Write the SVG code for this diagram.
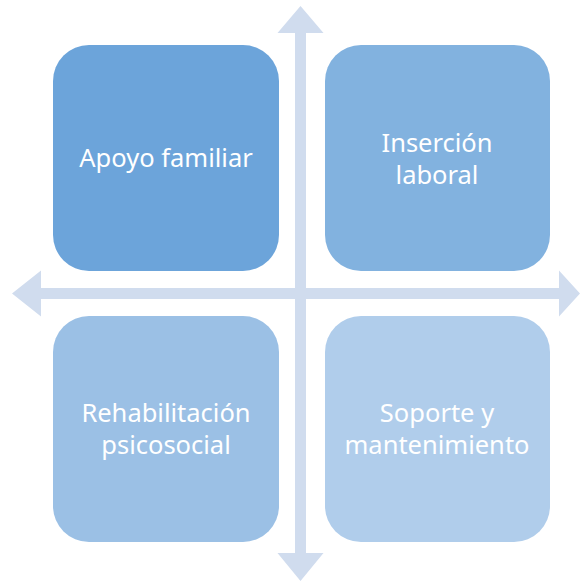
<svg xmlns="http://www.w3.org/2000/svg" width="580" height="581" viewBox="0 0 580 581">
<style>
.arrow{fill:#d0dcee}
.box{stroke:none}
.t{font-family:"Noto Sans","Liberation Sans",sans-serif;font-size:25.5px;fill:#ffffff;text-anchor:middle}
</style>
<rect width="580" height="581" fill="#ffffff"/>
<g id="connectors">
<polygon class="arrow" points="300.5,6 323.5,33 306,33 306,553 323.5,553 300.5,581 277.5,553 295,553 295,33 277.5,33"/>
<polygon class="arrow" points="12,293.5 41,270.5 41,288 559,288 559,270.5 580,293.5 559,316.5 559,299 41,299 41,316.5"/>
</g>
<g id="apoyo">
<rect class="box" x="53" y="45" width="226" height="226" rx="36" fill="#6ca4da"/>
<text class="t" x="166" y="167">Apoyo familiar</text>
</g>
<g id="insercion">
<rect class="box" x="325" y="45" width="225" height="226" rx="36" fill="#82b2df"/>
<text class="t" x="437" y="152">Inserción</text>
<text class="t" x="437" y="184">laboral</text>
</g>
<g id="rehabilitacion">
<rect class="box" x="53" y="316" width="226" height="226" rx="36" fill="#9bc0e5"/>
<text class="t" x="166" y="422">Rehabilitación</text>
<text class="t" x="166" y="454">psicosocial</text>
</g>
<g id="soporte">
<rect class="box" x="325" y="316" width="225" height="226" rx="36" fill="#b0cdeb"/>
<text class="t" x="437" y="422">Soporte y</text>
<text class="t" x="437" y="454">mantenimiento</text>
</g>
</svg>
